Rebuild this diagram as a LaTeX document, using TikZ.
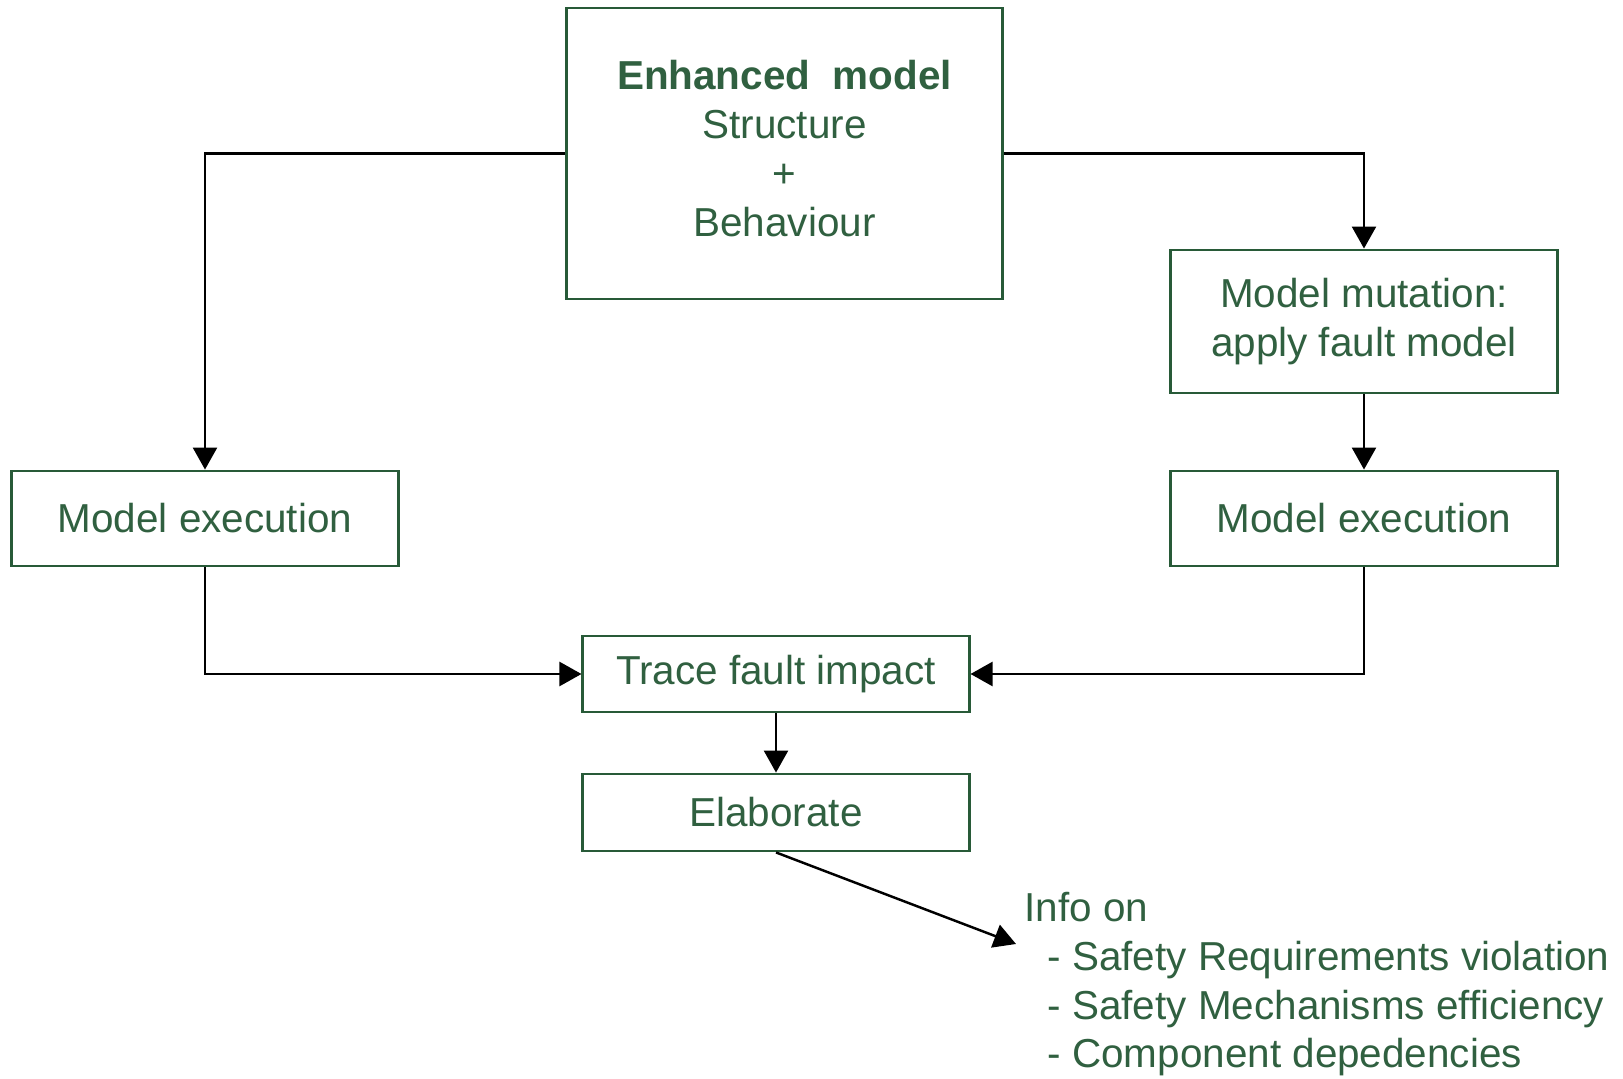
\documentclass[tikz,border=0pt]{standalone}
\usepackage{fontspec}
\setmainfont{Liberation Sans}
\usepackage{xcolor}
\usepackage{tikz}
\usetikzlibrary{arrows.meta,positioning,calc}
\definecolor{boxgreen}{RGB}{40,90,56}
\definecolor{textgreen}{RGB}{48,96,64}
\tikzset{
  stepbox/.style={rectangle,draw=boxgreen,line width=0.8pt,fill=white,
    text=textgreen,align=center,inner sep=0pt,
    font=\fontsize{11.5}{14}\selectfont},
  arr/.style={-{Triangle[length=2.2mm,width=2.4mm]},line width=0.7pt,draw=black}
}

\begin{document}
\begin{tikzpicture}[
  x=0.01cm,y=-0.01cm,
  infotext/.style={text=textgreen,align=left,inner sep=0pt,
    font=\fontsize{11.5}{13.8}\selectfont}
]
\useasboundingbox (0,0) rectangle (1623,1079);

\node[stepbox,minimum width=4.35cm,minimum height=2.91cm,text depth=0.1cm] (enh) at (784.5,153.5)
  {\textbf{Enhanced\ \ model}\\Structure\\+\\Behaviour};

\node[stepbox,minimum width=3.86cm,minimum height=1.43cm] (mut) at (1364,321.5)
  {Model mutation:\\apply fault model};

\node[stepbox,minimum width=3.86cm,minimum height=0.95cm] (lexec) at (205,518.5)
  {Model execution};
\node[stepbox,minimum width=3.86cm,minimum height=0.95cm] (rexec) at (1364,518.5)
  {Model execution};

\node[stepbox,minimum width=3.86cm,minimum height=0.76cm] (trace) at (776,674)
  {Trace fault impact};
\node[stepbox,minimum width=3.86cm,minimum height=0.77cm] (elab) at (776,812.5)
  {Elaborate};

\node[infotext,anchor=north west] (info) at (1024,892)
  {Info on\\
   \hspace{6.5pt}- Safety Requirements violation\\
   \hspace{6.5pt}- Safety Mechanisms efficiency\\
   \hspace{6.5pt}- Component depedencies};
\coordinate (infotip) at (1016,944);

% connectors
\draw[arr] (enh.west) -| (lexec.north);
\draw[arr] (enh.east) -| (mut.north);
\draw[arr] (mut.south) -- (rexec.north);
\draw[arr] (lexec.south) |- (trace.west);
\draw[arr] (rexec.south) |- (trace.east);
\draw[arr] (trace.south) -- (elab.north);
\draw[arr] (elab.south) -- (infotip);

\end{tikzpicture}
\end{document}
